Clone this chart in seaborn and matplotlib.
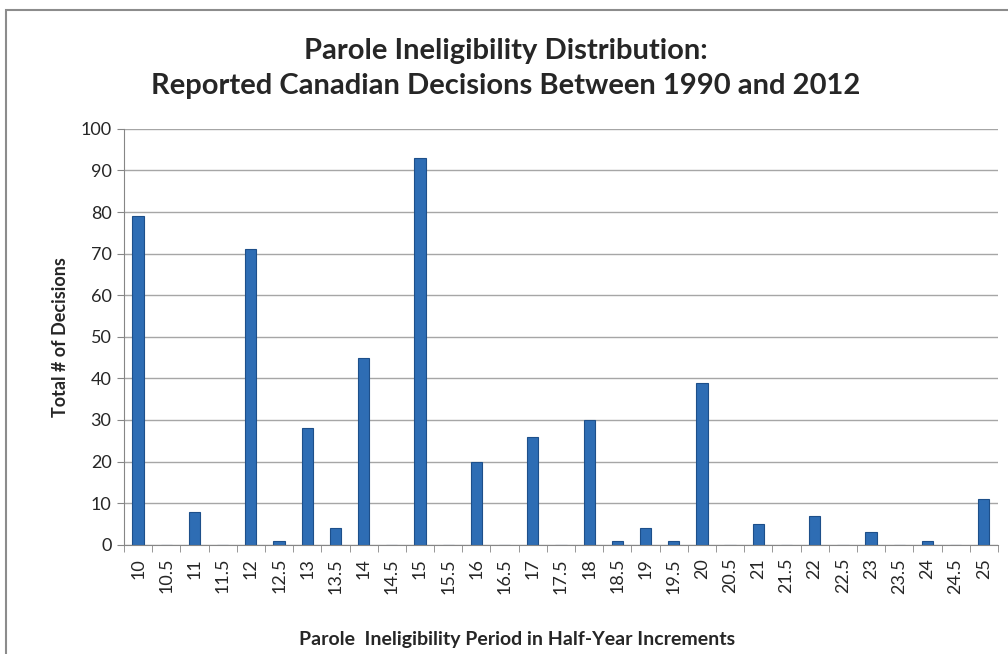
import matplotlib
matplotlib.use("Agg")
import matplotlib.pyplot as plt
import matplotlib.patches as mpatches
import numpy as np
import pandas as pd
import seaborn as sns

periods = ["10", "10.5", "11", "11.5", "12", "12.5", "13", "13.5", "14", "14.5",
           "15", "15.5", "16", "16.5", "17", "17.5", "18", "18.5", "19", "19.5",
           "20", "20.5", "21", "21.5", "22", "22.5", "23", "23.5", "24", "24.5", "25"]
decisions = [79, 0, 8, 0, 71, 1, 28, 4, 45, 0,
             93, 0, 20, 0, 26, 0, 30, 1, 4, 1,
             39, 0, 5, 0, 7, 0, 3, 0, 1, 0, 11]

df = pd.DataFrame({"period": periods, "count": decisions})

sns.set_style("white")
plt.rcParams["font.family"] = ["Lato", "DejaVu Sans"]

fig = plt.figure(figsize=(10.08, 6.54), dpi=100)
ax = fig.add_axes([0.123, 0.167, 0.867, 0.636])

sns.barplot(data=df, x="period", y="count", color="#2e6db4", width=0.4,
            edgecolor="#1d4f8a", linewidth=0.8, saturation=1, ax=ax)

ax.set_ylim(0, 100)
ax.set_yticks(range(0, 101, 10))
ax.set_xlim(-0.5, len(periods) - 0.5)
ax.yaxis.grid(True, color="#a6a6a6", linewidth=1)
ax.set_axisbelow(True)
for s in ["top", "right"]:
    ax.spines[s].set_visible(False)
ax.spines["left"].set_color("#868686")
ax.spines["bottom"].set_color("#868686")
ax.tick_params(axis="y", left=True, length=5, color="#868686", labelsize=13, pad=4)
ax.tick_params(axis="x", bottom=False, labelsize=13, labelrotation=90, pad=6)
# minor ticks between categories like the original
ax.set_xticks(np.arange(-0.5, len(periods), 1), minor=True)
ax.tick_params(axis="x", which="minor", bottom=True, length=5, color="#868686")

ax.set_xlabel("")
ax.set_ylabel("Total # of Decisions", fontsize=13, fontweight="bold", labelpad=8)

fig.text(0.502, 0.895, "Parole Ineligibility Distribution:\nReported Canadian Decisions Between 1990 and 2012",
         ha="center", va="center", fontsize=21, fontweight="bold", linespacing=1.4)
fig.text(0.513, 0.022, "Parole  Ineligibility Period in Half-Year Increments",
         ha="center", va="center", fontsize=14, fontweight="bold")

fig.patches.append(mpatches.Rectangle((0.006, -0.1), 1.1, 1.085, transform=fig.transFigure,
                                      fill=False, edgecolor="#8c8c8c", linewidth=1.5))

fig.savefig("out.png", dpi=100)
